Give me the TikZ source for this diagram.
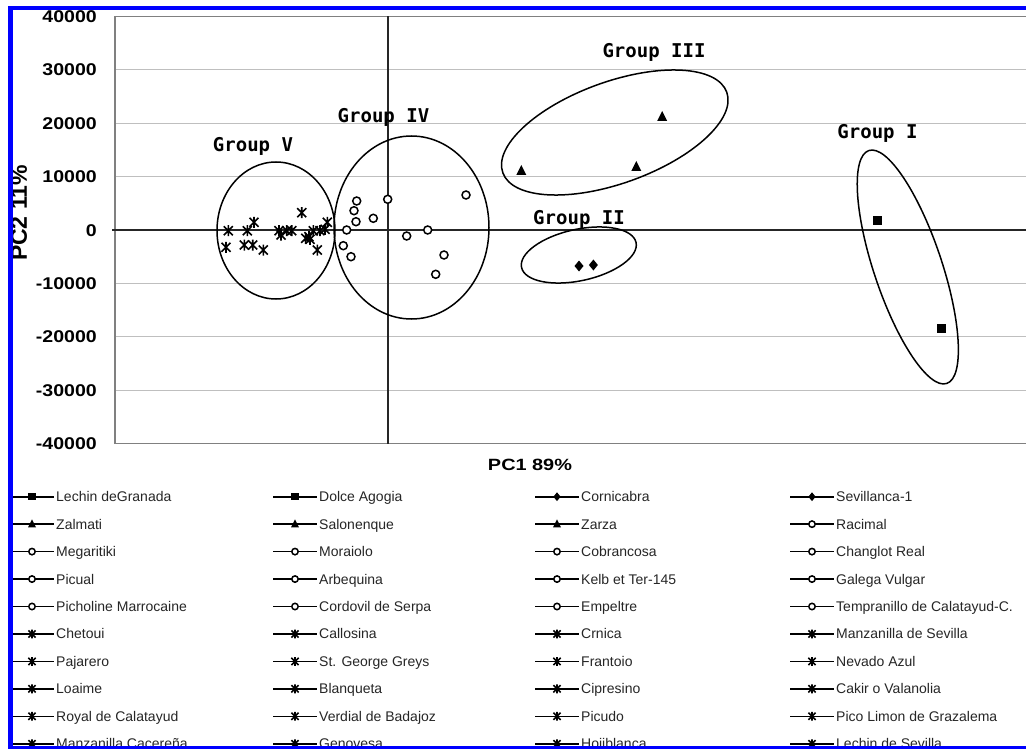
\documentclass[tikz,border=0pt]{standalone}
\usepackage{fontspec}
\setmainfont{Liberation Sans}
\newfontfamily\grpfont{DejaVu Sans Mono}
\newcommand{\legent}[5]{%
  \draw[legline] (#1,#2) -- ++(44,0);
  \pic[scale=0.8] at ({#1+22},#2) {#3};
  \node[legtext] (#5) at ({#1+46},{#2+5}) {#4};}
\begin{document}
\begin{tikzpicture}[x=1pt,y=-1pt,
  gridl/.style={draw=black!25, line width=1.2pt},
  framel/.style={draw=black!50, line width=1.5pt},
  axisl/.style={draw=black!85, line width=1.5pt},
  ell/.style={draw=black, line width=1.5pt},
  ticklab/.style={font=\bfseries\fontsize{17}{17}\selectfont, anchor=base east, inner sep=0pt},
  grp/.style={font=\grpfont\bfseries\fontsize{19}{19}\selectfont, anchor=base, inner sep=0pt},
  legtext/.style={font=\fontsize{14}{14}\selectfont, text=black!85, anchor=base west, inner sep=0pt},
  legline/.style={draw=black, line width=1.6pt},
  msq/.pic={\fill (-4.5pt,-4.5pt) rectangle (4.5pt,4.5pt);},
  mtri/.pic={\fill (-5pt,-4pt) -- (5pt,-4pt) -- (0pt,6pt) -- cycle;},
  mdia/.pic={\fill (0pt,5.5pt) -- (4.5pt,0pt) -- (0pt,-5.5pt) -- (-4.5pt,0pt) -- cycle;},
  mcir/.pic={\draw[line width=1.5pt, fill=white] (0pt,0pt) circle (4pt);},
  mstar/.pic={\draw[line width=1.6pt] (-4.5pt,-4.5pt) -- (4.5pt,4.5pt) (-4.5pt,4.5pt) -- (4.5pt,-4.5pt) (0pt,-5.5pt) -- (0pt,5.5pt);}
]
\useasboundingbox (0,0) rectangle (1026,749);
\fill[white] (0,0) rectangle (1026,749);
\begin{scope}
\clip (13,10) rectangle (1026,745.5);
% grid
\foreach \k in {-3,-2,-1,1,2,3}
  \draw[gridl] (115,{230-53.375*\k}) -- (1026,{230-53.375*\k});
% frame
\draw[framel] (1026,16.5) -- (115,16.5) -- (115,443.5) -- (1026,443.5);
% axes
\draw[axisl] (112,230) -- (1026,230);
\draw[axisl] (388,16.5) -- (388,443.5);
% tick labels
\foreach \k/\t in {4/40000,3/30000,2/20000,1/10000,0/0,-1/-10000,-2/-20000,-3/-30000,-4/-40000}
  \node[ticklab] (t\k) at (97,{230-53.375*\k+6.1}) {\scalebox{1.15}[1]{\t}};
% axis titles
\node[font=\bfseries\fontsize{16.3}{16.3}\selectfont, anchor=base, inner sep=0pt] (xt) at (530,470) {\scalebox{1.22}[1]{PC1 89\%}};
\node[font=\bfseries\fontsize{23}{23}\selectfont, anchor=base, inner sep=0pt, rotate=90] (yt) at (27,213) {PC2 11\%};
% ellipses
\draw[ell] (276,230.5) ellipse [x radius=59pt, y radius=68.5pt];
\draw[ell] (411.5,227.5) ellipse [x radius=77.5pt, y radius=91.5pt];
\draw[ell, rotate around={19.8:(614.8,132.5)}] (614.8,132.5) ellipse [x radius=119pt, y radius=50.8pt];
\draw[ell, rotate around={12.3:(578.8,255)}] (578.8,255) ellipse [x radius=58.6pt, y radius=25.7pt];
\draw[ell, rotate around={108.5:(907.8,267)}] (907.8,267) ellipse [x radius=122.8pt, y radius=34pt];
% group labels
\node[grp] (g5) at (253,152) {Group V};
\node[grp] (g4) at (383.5,123) {Group IV};
\node[grp] (g3) at (654,58) {Group III};
\node[grp] (g2) at (579,224) {Group II};
\node[grp] (g1) at (877.5,139) {Group I};
% data
\foreach \p in {(877.7,220),(941.6,328)} \pic at \p {msq};
\foreach \p in {(521.3,171),(636.3,167),(662.2,117)} \pic at \p {mtri};
\foreach \p in {(579,266),(593.4,265)} \pic at \p {mdia};
\foreach \p in {(356.7,201),(354,210.7),(356,221.7),(373.3,218.3),(387.7,199.3),(466,195),(346.7,230),(343.3,245.7),(351,256.7),(406.7,236),(427.7,230),(444,255),(435.7,274.3)} \pic at \p {mcir};
\foreach \p in {(228.3,230.7),(226,247.3),(247.3,230.7),(254,222.3),(244.3,245),(252.7,245),(263.3,250),(279,230.7),(281,235),(286.7,230.7),(291.7,230.7),(301.7,212.7),(305.7,238.3),(309,236.7),(313.3,230.7),(317.3,250),(320,230.7),(325,229.3),(327.3,222.3),(310,239.3)} \pic at \p {mstar};
% legend
\legent{10}{496.7}{msq}{Lechin deGranada}{l11}
\legent{273}{496.7}{msq}{Dolce Agogia}{l12}
\legent{535}{496.7}{mdia}{Cornicabra}{l13}
\legent{790}{496.7}{mdia}{Sevillanca-1}{l14}
\legent{10}{524.15}{mtri}{Zalmati}{l21}
\legent{273}{524.15}{mtri}{Salonenque}{l22}
\legent{535}{524.15}{mtri}{Zarza}{l23}
\legent{790}{524.15}{mcir}{Racimal}{l24}
\legent{10}{551.6}{mcir}{Megaritiki}{l31}
\legent{273}{551.6}{mcir}{Moraiolo}{l32}
\legent{535}{551.6}{mcir}{Cobrancosa}{l33}
\legent{790}{551.6}{mcir}{Changlot Real}{l34}
\legent{10}{579.05}{mcir}{Picual}{l41}
\legent{273}{579.05}{mcir}{Arbequina}{l42}
\legent{535}{579.05}{mcir}{Kelb et Ter-145}{l43}
\legent{790}{579.05}{mcir}{Galega Vulgar}{l44}
\legent{10}{606.5}{mcir}{Picholine Marrocaine}{l51}
\legent{273}{606.5}{mcir}{Cordovil de Serpa}{l52}
\legent{535}{606.5}{mcir}{Empeltre}{l53}
\legent{790}{606.5}{mcir}{Tempranillo de Calatayud-C.}{l54}
\legent{10}{633.95}{mstar}{Chetoui}{l61}
\legent{273}{633.95}{mstar}{Callosina}{l62}
\legent{535}{633.95}{mstar}{Crnica}{l63}
\legent{790}{633.95}{mstar}{Manzanilla de Sevilla}{l64}
\legent{10}{661.4}{mstar}{Pajarero}{l71}
\legent{273}{661.4}{mstar}{St. George Greys}{l72}
\legent{535}{661.4}{mstar}{Frantoio}{l73}
\legent{790}{661.4}{mstar}{Nevado Azul}{l74}
\legent{10}{688.85}{mstar}{Loaime}{l81}
\legent{273}{688.85}{mstar}{Blanqueta}{l82}
\legent{535}{688.85}{mstar}{Cipresino}{l83}
\legent{790}{688.85}{mstar}{Cakir o Valanolia}{l84}
\legent{10}{716.3}{mstar}{Royal de Calatayud}{l91}
\legent{273}{716.3}{mstar}{Verdial de Badajoz}{l92}
\legent{535}{716.3}{mstar}{Picudo}{l93}
\legent{790}{716.3}{mstar}{Pico Limon de Grazalema}{l94}
\legent{10}{743.75}{mstar}{Manzanilla Cacereña}{l101}
\legent{273}{743.75}{mstar}{Genovesa}{l102}
\legent{535}{743.75}{mstar}{Hojiblanca}{l103}
\legent{790}{743.75}{mstar}{Lechin de Sevilla}{l104}
\end{scope}
% blue border
\fill[blue] (8,6) rectangle (1026,10.5);
\fill[blue] (8,6) rectangle (13.3,749);
\fill[blue] (8,745.5) rectangle (1026,749);
\end{tikzpicture}
\end{document}
